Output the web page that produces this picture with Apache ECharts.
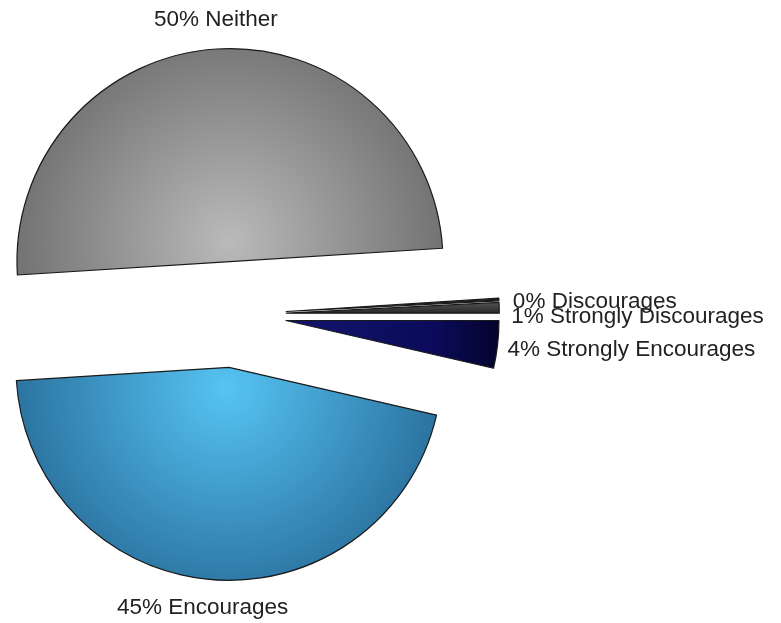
<!DOCTYPE html>
<html>
<head>
<meta charset="utf-8">
<script src="https://cdn.jsdelivr.net/npm/echarts@6/dist/echarts.min.js"></script>
<style>
html,body{margin:0;padding:0;background:#ffffff;}
#chart{width:781px;height:623px;}
</style>
</head>
<body>
<div id="chart"></div>
<script>
const categories = ['Neither', 'Discourages', 'Strongly Discourages', 'Strongly Encourages', 'Encourages'];
const values = [50, 0.2, 0.8, 3.6, 45.4];

const fills = [
  {type:'radial', x:0.5, y:0.85, r:1.0, colorStops:[{offset:0,color:'#bababa'},{offset:1,color:'#6e6e6e'}]},
  {type:'radial', x:0.5, y:0.5, r:1.0, colorStops:[{offset:0,color:'#4a4a4a'},{offset:1,color:'#1e1e1e'}]},
  {type:'linear', x:0, y:0, x2:0, y2:1, colorStops:[{offset:0,color:'#555555'},{offset:1,color:'#262626'}]},
  {type:'linear', x:0, y:0, x2:1, y2:0, colorStops:[{offset:0,color:'#14146e'},{offset:0.7,color:'#0b0b5a'},{offset:1,color:'#03032c'}]},
  {type:'radial', x:0.5, y:0.1, r:1.0, colorStops:[{offset:0,color:'#56c4f4'},{offset:1,color:'#2b729f'}]}
];
const labelLens = [29, 5, 5, 5, 28.5];
const labelLens2 = [-68, 4, 2, 0, -84];
const labelStyleKeys = ['n', 'd0', 'd1', 'd4', 'n'];

const chart = echarts.init(document.getElementById('chart'), null, {renderer:'canvas'});
const data = categories.map((c, i) => ({
  name: c,
  value: values[i],
  selected: true,
  itemStyle: {color: fills[i]},
  labelLine: {length: labelLens[i], length2: labelLens2[i]}
}));
const fontFam = 'Liberation Sans, Arial, sans-serif';
chart.setOption({
  animation: false,
  backgroundColor: '#ffffff',
  series: [{
    type: 'pie',
    center: [233.3, 314.5],
    radius: 213,
    startAngle: 183.6,
    clockwise: true,
    selectedMode: 'multiple',
    selectedOffset: 53,
    avoidLabelOverlap: false,
    minShowLabelAngle: 0,
    labelLayout: {hideOverlap: false},
    itemStyle: {borderColor: '#1a1a1a', borderWidth: 1.2},
    label: {
      show: true,
      position: 'outside',
      formatter: function (p) {
        return '{' + labelStyleKeys[p.dataIndex] + '|' + Math.round(p.percent) + '% ' + p.name + '}';
      },
      fontFamily: fontFam,
      fontSize: 22.5,
      color: '#222222',
      distanceToLabelLine: 5,
      bleedMargin: 0,
      rich: {
        n: {fontFamily: fontFam, fontSize: 22.5, color: '#222222'},
        d0: {fontFamily: fontFam, fontSize: 22.5, color: '#222222', padding: [6, 0, 0, 0]},
        d1: {fontFamily: fontFam, fontSize: 22.5, color: '#222222', padding: [18, 0, 0, 0]},
        d4: {fontFamily: fontFam, fontSize: 22.5, color: '#222222', padding: [10, 0, 0, 0]}
      }
    },
    labelLine: {show: false},
    emphasis: {disabled: true},
    select: {itemStyle: {borderColor: '#1a1a1a', borderWidth: 1.2}},
    data: data
  }]
});
</script>
</body>
</html>
